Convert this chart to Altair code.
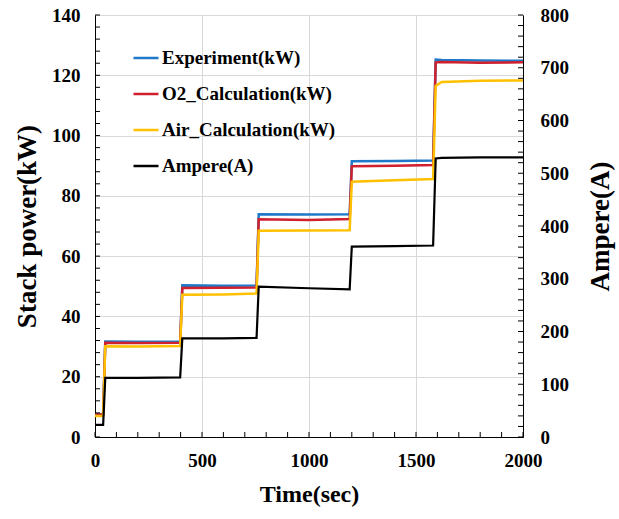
import altair as alt
import pandas as pd

# ---- data ----
time_s = [0, 38, 48, 200, 398, 408, 600, 755, 765, 1000, 1190, 1200, 1400, 1580, 1592, 1620, 1800, 2000]
experiment_kw = [7.5, 7.5, 31.7, 31.6, 31.7, 50.3, 50.2, 50.3, 73.9, 73.8, 73.9, 91.5, 91.6, 91.7, 125.2, 125.1, 124.9, 124.8]
o2_calc_kw = [7.5, 7.5, 31.3, 31.2, 31.3, 49.4, 49.5, 49.6, 72.2, 72.0, 72.3, 89.8, 90.0, 90.2, 124.3, 124.4, 124.2, 124.3]
air_calc_kw = [7.0, 7.0, 30.1, 30.0, 30.2, 47.2, 47.3, 47.6, 68.4, 68.5, 68.6, 84.7, 85.2, 85.6, 116.5, 117.8, 118.2, 118.3]
ampere_a = [23, 23, 112, 112, 113, 187, 187, 188, 285, 282, 280, 361, 362, 363, 528, 529, 530, 530]

series_names = ["Experiment(kW)", "O2_Calculation(kW)", "Air_Calculation(kW)", "Ampere(A)"]
series_colors = ["#1F78C8", "#D0202E", "#FFC000", "#000000"]

x_major = [0, 500, 1000, 1500, 2000]
y_left_major = [0, 20, 40, 60, 80, 100, 120, 140]
y_right_major = [0, 100, 200, 300, 400, 500, 600, 700, 800]
x_minor = list(range(0, 2001, 100))
y_left_minor = list(range(0, 141, 4))
y_right_minor = list(range(0, 801, 20))

rows = []
for name, vals in zip(series_names, [experiment_kw, o2_calc_kw, air_calc_kw, ampere_a]):
    for t, v in zip(time_s, vals):
        rows.append({"time": t, "value": v, "series": name})
df = pd.DataFrame(rows)

W, H = 428, 422
FONT = "Liberation Serif"

x_axis = alt.Axis(values=x_major, title="Time(sec)", grid=True, gridColor="#d9d9d9",
                  ticks=False, labelPadding=14, titlePadding=12, labelFontSize=19,
                  titleFontSize=24, domainColor="black", labelFlush=False, format="d")
left_axis = alt.Axis(orient="left", values=y_left_major, title="Stack power(kW)", grid=True,
                     gridColor="#d9d9d9", ticks=False, labelPadding=15, titlePadding=10,
                     labelFontSize=19, titleFontSize=27, domainColor="black", format="d")
right_axis = alt.Axis(orient="right", values=y_right_major, title="Ampere(A)", grid=False,
                      ticks=False, labelPadding=17, titlePadding=19, labelFontSize=19,
                      titleFontSize=27, titleAngle=270, titleBaseline="top",
                      domainColor="black", format="d")

def X(field):
    return alt.X(field, type="quantitative", scale=alt.Scale(domain=[0, 2000], nice=False), axis=x_axis)

def YL(field):
    return alt.Y(field, type="quantitative", scale=alt.Scale(domain=[0, 140], nice=False), axis=left_axis)

def YR(field):
    return alt.Y(field, type="quantitative", scale=alt.Scale(domain=[0, 800], nice=False), axis=right_axis)

legend = alt.Legend(title=None, orient="none", legendX=37, legendY=29, symbolType="stroke",
                    symbolSize=625, symbolStrokeWidth=2.5, labelFontSize=19, labelFont=FONT,
                    labelFontWeight="bold", labelOffset=2, rowPadding=12, padding=0,
                    labelColor="black", labelLimit=400)
color = alt.Color("series:N", scale=alt.Scale(domain=series_names, range=series_colors), legend=legend)

base = alt.Chart(df)

kw_layers = []
for name in series_names[:3]:
    kw_layers.append(
        base.transform_filter(alt.datum.series == name)
        .mark_line(strokeWidth=2.5, interpolate="linear")
        .encode(x=X("time"), y=YL("value"), color=color)
    )

left_ticks = alt.Chart(pd.DataFrame({"v": y_left_minor})).mark_rule(color="black", strokeWidth=1).encode(
    y=YL("v"), x=alt.value(0), x2=alt.value(5))
bottom_ticks = alt.Chart(pd.DataFrame({"t": x_minor})).mark_rule(color="black", strokeWidth=1).encode(
    x=X("t"), y=alt.value(H), y2=alt.value(H - 5))

layer_left = alt.layer(*kw_layers, left_ticks, bottom_ticks)

amp_line = (base.transform_filter(alt.datum.series == "Ampere(A)")
            .mark_line(strokeWidth=2.2)
            .encode(x=X("time"), y=YR("value"), color=color))
right_ticks = alt.Chart(pd.DataFrame({"a": y_right_minor})).mark_rule(color="black", strokeWidth=1).encode(
    y=YR("a"), x=alt.value(W), x2=alt.value(W - 5))

layer_right = alt.layer(amp_line, right_ticks)

chart = (
    alt.layer(layer_left, layer_right)
    .resolve_scale(y="independent")
    .properties(width=W, height=H,
                padding={"left": 95, "top": 15, "right": 96, "bottom": 82},
                autosize=alt.AutoSizeParams(type="none"),
                background="white")
    .configure_view(stroke="black", strokeWidth=1)
    .configure_axis(labelFont=FONT, titleFont=FONT, labelFontWeight="bold",
                    titleFontWeight="bold", labelColor="black", titleColor="black")
)

chart.save("out.html", embed_options={"renderer": "svg", "actions": False})
